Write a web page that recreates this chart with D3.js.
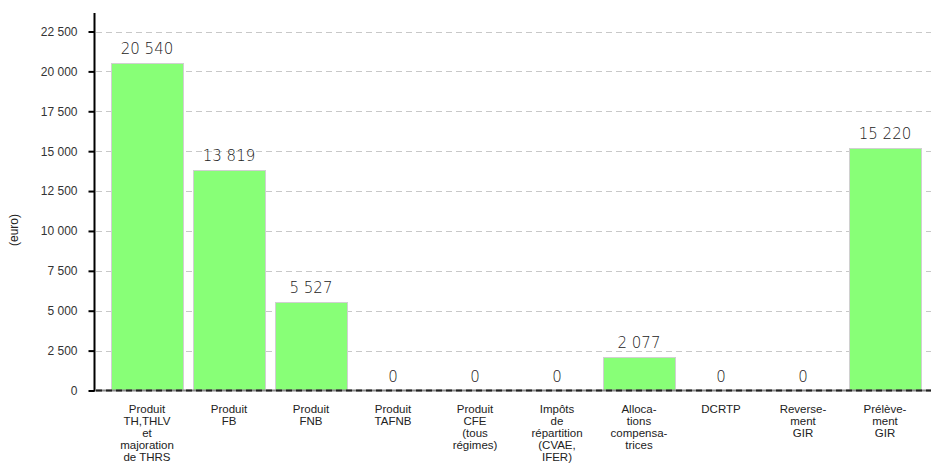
<!DOCTYPE html>
<html><head><meta charset="utf-8">
<script src="https://cdn.jsdelivr.net/npm/d3@7"></script>
<style>body{margin:0;background:#fff}svg{display:block}</style>
</head><body>
<svg id="c" width="931" height="475"></svg>
<script>
const categories = [
  ["Produit","TH,THLV","et","majoration","de THRS"],
  ["Produit","FB"],
  ["Produit","FNB"],
  ["Produit","TAFNB"],
  ["Produit","CFE","(tous","régimes)"],
  ["Impôts","de","répartition","(CVAE,","IFER)"],
  ["Alloca-","tions","compensa-","trices"],
  ["DCRTP"],
  ["Reverse-","ment","GIR"],
  ["Prélève-","ment","GIR"]
];
const values = [20540, 13819, 5527, 0, 0, 0, 2077, 0, 0, 15220];
const yTicks = [0, 2500, 5000, 7500, 10000, 12500, 15000, 17500, 20000, 22500];
const yLabel = "(euro)";

const svg = d3.select("#c");
const fmt = v => d3.format(",")(v).replace(/,/g, " ");
const data = values.map((v, i) => ({ v, i }));

const x = d3.scaleBand().domain(d3.range(categories.length)).range([106, 926]).paddingInner(0.12).paddingOuter(0.06);
const y = d3.scaleLinear().domain([0, 22500]).range([390.5, 31.5]);

// grid
svg.append("g").selectAll("line").data(yTicks.filter(t => t > 0)).join("line")
  .attr("x1", 96).attr("x2", 931)
  .attr("y1", d => Math.round(y(d)) + 0.5).attr("y2", d => Math.round(y(d)) + 0.5)
  .attr("stroke", "#c8c8c8").attr("stroke-dasharray", "6,4");

// bars
svg.append("g").selectAll("rect").data(data.filter(o => o.v > 0)).join("rect")
  .attr("x", o => Math.round(x(o.i)) + 0.5)
  .attr("y", o => Math.round(y(o.v)) + 0.5)
  .attr("width", Math.round(x.bandwidth()))
  .attr("height", o => y(0) - Math.round(y(o.v)) - 0.5)
  .attr("fill", "#88ff77").attr("stroke", "#d0d0d0").attr("stroke-width", 1);

// zero line
svg.append("line").attr("x1", 96).attr("x2", 931).attr("y1", y(0)).attr("y2", y(0))
  .attr("stroke", "#888").attr("stroke-width", 2);
svg.append("line").attr("x1", 96).attr("x2", 931).attr("y1", y(0)).attr("y2", y(0))
  .attr("stroke", "#222").attr("stroke-width", 2).attr("stroke-dasharray", "6,4");

// y axis
const yAxis = d3.axisLeft(y).tickValues(yTicks).tickSize(6).tickPadding(11).tickFormat(fmt);
const ga = svg.append("g").attr("transform", "translate(94.5,0)").call(yAxis);
ga.select(".domain").remove();
ga.selectAll(".tick line").attr("stroke", "#000").attr("stroke-width", 2);
ga.selectAll(".tick text").attr("font-family", "Liberation Sans, Arial, sans-serif").attr("font-size", 12).attr("fill", "#333");
svg.append("line").attr("x1", 94.5).attr("x2", 94.5).attr("y1", 13).attr("y2", 391.5).attr("stroke", "#000").attr("stroke-width", 2);

// value labels
svg.append("g").selectAll("text").data(data).join("text")
  .attr("x", o => x(o.i) + x.bandwidth()/2)
  .attr("y", o => y(o.v) - 9)
  .attr("text-anchor", "middle")
  .attr("font-family", "DejaVu Sans, sans-serif").attr("font-size", 15).attr("font-weight", 300)
  .attr("fill", "#222")
  .text(o => fmt(o.v));

// category labels
const cl = svg.append("g").selectAll("text").data(categories).join("text")
  .attr("text-anchor", "middle")
  .attr("font-family", "Liberation Sans, Arial, sans-serif").attr("font-size", 11.5).attr("fill", "#222")
  .attr("transform", (d, i) => `translate(${x(i) + x.bandwidth()/2},413)`);
cl.selectAll("tspan").data(d => d).join("tspan")
  .attr("x", 0).attr("dy", (d, j) => j === 0 ? 0 : 12).text(d => d);

// y label
svg.append("text").attr("transform", "translate(18,230) rotate(-90)")
  .attr("text-anchor", "middle").attr("font-family", "Liberation Sans, Arial, sans-serif")
  .attr("font-size", 12).attr("fill", "#222").text(yLabel);
</script>
</body></html>
